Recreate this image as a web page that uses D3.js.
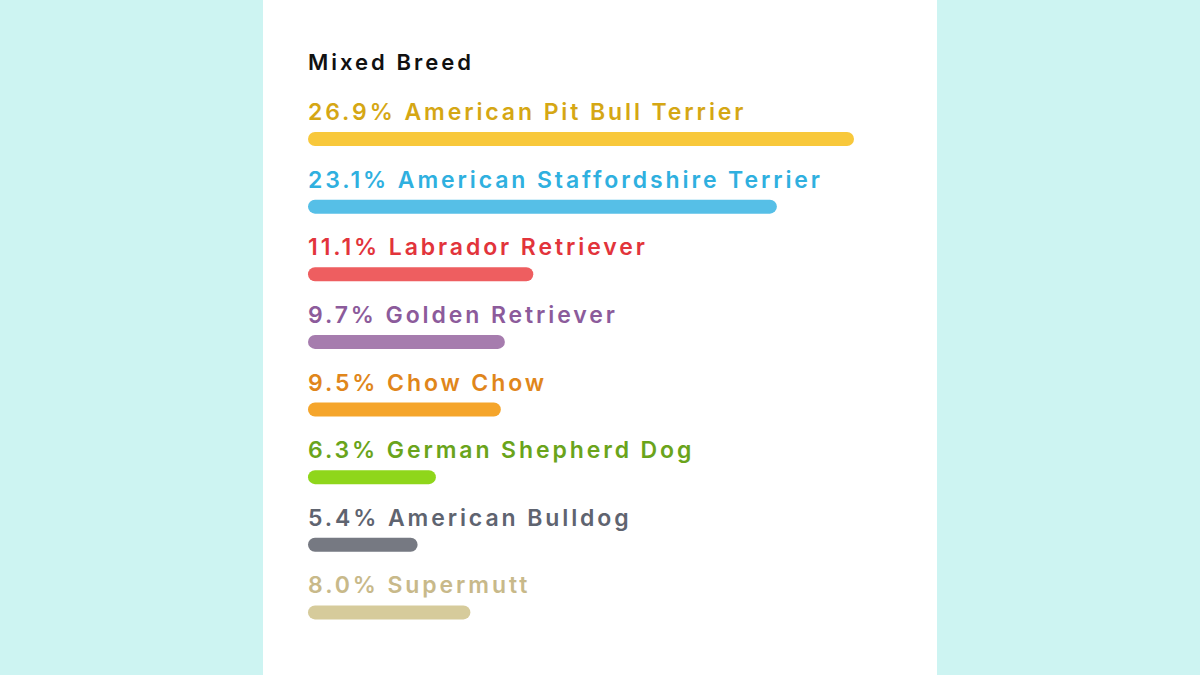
<!DOCTYPE html>
<html lang="en">
<head>
<meta charset="utf-8">
<script src="https://cdn.jsdelivr.net/npm/d3@7"></script>
<style>
  body { margin: 0; background: #cdf4f2; }
</style>
</head>
<body>
<script>
var w = 1200, h = 675;

var breeds = ["American Pit Bull Terrier", "American Staffordshire Terrier", "Labrador Retriever",
              "Golden Retriever", "Chow Chow", "German Shepherd Dog", "American Bulldog", "Supermutt"];
var values = [26.9, 23.1, 11.1, 9.7, 9.5, 6.3, 5.4, 8.0];
var textColors = ["#d5a714", "#2fb0df", "#e2343b", "#8c5b9b", "#e0861b", "#6aa41b", "#5f6470", "#c8b98a"];
var barColors = ["#f8c83b", "#56bfe7", "#ee5e60", "#a67cae", "#f5a52b", "#8fd61b", "#767982", "#d6cb9b"];

var svg = d3.select("body").append("svg").attr("width", w).attr("height", h);

// white panel
svg.append("rect").attr("x", 263).attr("y", 0).attr("width", 674).attr("height", h).attr("fill", "#fff");

svg.append("text")
   .attr("x", 308).attr("y", 70)
   .attr("font-family", "Inter, sans-serif").attr("font-size", "22px").attr("font-weight", 600)
   .attr("letter-spacing", "3px").attr("fill", "#111")
   .text("Mixed Breed");

var xScale = d3.scaleLinear().domain([0, 26.9]).range([0, 546]);
var yScale = d3.scaleBand().domain(d3.range(breeds.length)).range([92, 633]);

var rows = svg.selectAll("g.row").data(breeds).enter().append("g")
   .attr("transform", function(d, i) { return "translate(308," + yScale(i) + ")"; });

rows.append("text")
   .attr("y", 28)
   .attr("font-family", "Inter, sans-serif").attr("font-size", "23px").attr("font-weight", 600)
   .attr("letter-spacing", "2.9px")
   .attr("fill", function(d, i) { return textColors[i]; })
   .text(function(d, i) { return values[i].toFixed(1) + "% " + d; });

rows.append("rect")
   .attr("y", 40).attr("height", 14).attr("rx", 7)
   .attr("width", function(d, i) { return xScale(values[i]); })
   .attr("fill", function(d, i) { return barColors[i]; });
</script>
</body>
</html>
